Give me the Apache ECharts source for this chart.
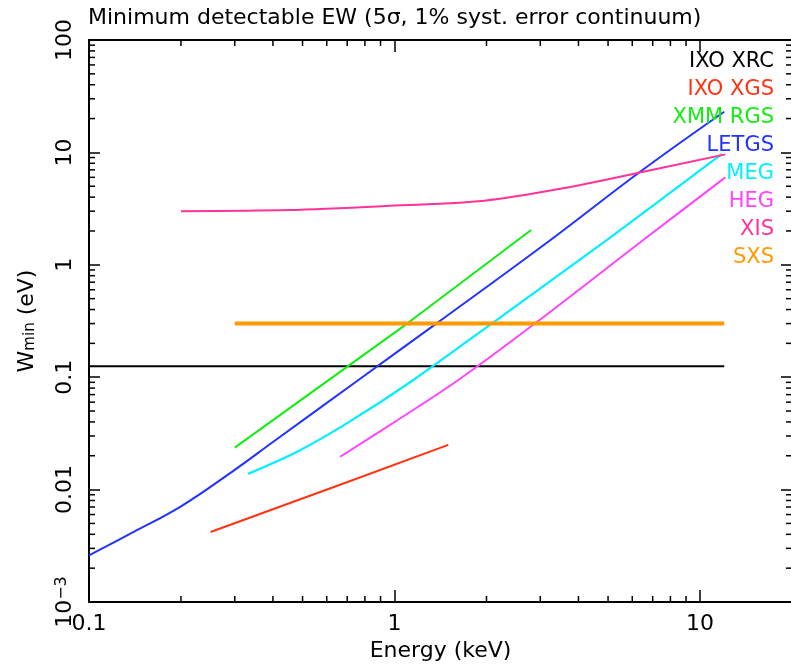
<!DOCTYPE html>
<html>
<head>
<meta charset="utf-8">
<script src="https://cdn.jsdelivr.net/npm/echarts@6/dist/echarts.min.js"></script>
<style>
html,body{margin:0;padding:0;background:#fff;}
#ewChart{width:791px;height:666px;}
</style>
</head>
<body>
<div id="ewChart"></div>
<script>
//------------------------数据-开始------------------//
// IXO XRC
var xrcEnergy = [0.1, 12];
var xrcW = [0.125, 0.125];
// IXO XGS
var xgsEnergy = [0.25, 0.66, 1.5];
var xgsW = [0.0042, 0.011, 0.025];
// XMM RGS
var rgsEnergy = [0.3, 1.1, 2.8];
var rgsW = [0.0236, 0.3, 2.04];
// LETGS
var letgsEnergy = [0.1, 0.14, 0.2, 0.3, 0.4, 0.76, 1.37, 3.2, 6.4, 12];
var letgsW = [0.0026, 0.0042, 0.0071, 0.0150, 0.0265, 0.094, 0.3, 1.62, 6.8, 23];
// MEG
var megEnergy = [0.332, 0.48, 0.7, 1.15, 2.08, 4.95, 11.8];
var megW = [0.0138, 0.0217, 0.039, 0.094, 0.3, 1.66, 9.7];
// HEG
var hegEnergy = [0.664, 1.016, 1.618, 2.88, 6.52, 12.1];
var hegW = [0.0196, 0.041, 0.0944, 0.3, 1.66, 6.0];
// XIS
var xisEnergy = [0.2, 0.45, 0.93, 1.97, 3.56, 6.52, 12.1];
var xisW = [3.0, 3.07, 3.33, 3.72, 4.79, 6.73, 9.6];
// SXS
var sxsEnergy = [0.3, 12];
var sxsW = [0.3, 0.3];

var seriesNames = ['IXO XRC', 'IXO XGS', 'XMM RGS', 'LETGS', 'MEG', 'HEG', 'XIS', 'SXS'];
var seriesColors = ['#000000', '#ff3311', '#11ee11', '#2233ff', '#00f0ff', '#ff44ff', '#ff3399', '#ff9900'];
var xTickLabels = {'0.1': '0.1', '1': '1', '10': '10'};
var yTickLabels = {'0.001': '{b|10}{e|\u22123}', '0.01': '0.01', '0.1': '0.1', '1': '1', '10': '10', '100': '100'};
//------------------------数据-结束------------------//

var FONT = 'DejaVu Sans';
var X_MIN = 0.1, X_MAX = 20, Y_MIN = 0.001, Y_MAX = 100;

function zip(xs, ys) {
	var out = [];
	for (var i = 0; i < xs.length; i++) {
		out.push([xs[i], ys[i]]);
	}
	return out;
}

// 次刻度 2..9 x 10^k，四边都画
function buildMinorTicks() {
	var list = [];
	var k, m, v;
	for (k = -1; k <= 1; k++) {
		for (m = 2; m <= 9; m++) {
			v = m * Math.pow(10, k);
			if (v < X_MAX) {
				list.push([v, Y_MIN, 0]);
				list.push([v, Y_MAX, 1]);
			}
		}
	}
	for (k = -3; k <= 1; k++) {
		for (m = 2; m <= 9; m++) {
			v = m * Math.pow(10, k);
			list.push([X_MIN, v, 2]);
			list.push([X_MAX, v, 3]);
		}
	}
	return list;
}

function renderMinorTick(params, api) {
	var side = api.value(2);
	var p = api.coord([api.value(0), api.value(1)]);
	var len = 6;
	var x2 = p[0], y2 = p[1];
	if (side === 0) { y2 = p[1] - len; }
	else if (side === 1) { y2 = p[1] + len; }
	else if (side === 2) { x2 = p[0] + len; }
	else { x2 = p[0] - len; }
	return {
		type: 'line',
		shape: {x1: p[0], y1: p[1], x2: x2, y2: y2},
		style: {stroke: '#000', lineWidth: 1.5}
	};
}

function fmtKey(v) {
	return String(parseFloat(v.toPrecision(6)));
}

var lineData = [
	zip(xrcEnergy, xrcW),
	zip(xgsEnergy, xgsW),
	zip(rgsEnergy, rgsW),
	zip(letgsEnergy, letgsW),
	zip(megEnergy, megW),
	zip(hegEnergy, hegW),
	zip(xisEnergy, xisW),
	zip(sxsEnergy, sxsW)
];
var lineWidths = [2, 2, 2, 2, 2.2, 2, 2, 4];
var smoothFlags = [false, false, false, 0.4, 0.3, 0.3, 0.3, false];

var series = [];
for (var i = 0; i < seriesNames.length; i++) {
	series.push({
		name: seriesNames[i],
		type: 'line',
		data: lineData[i],
		showSymbol: false,
		smooth: smoothFlags[i],
		color: seriesColors[i],
		lineStyle: {color: seriesColors[i], width: lineWidths[i]},
		silent: true,
		z: 3
	});
}
series.push({
	name: 'minorTicks',
	type: 'custom',
	renderItem: renderMinorTick,
	data: buildMinorTicks(),
	encode: {x: 0, y: 1},
	silent: true,
	clip: false,
	z: 4
});

var legendData = [];
for (var j = 0; j < seriesNames.length; j++) {
	legendData.push({name: seriesNames[j], textStyle: {color: seriesColors[j]}});
}

var axisLineStyle = {show: true, lineStyle: {color: '#000', width: 2}};
var majorTick = {show: true, inside: true, length: 12, lineStyle: {color: '#000', width: 1.5}};

var myChart = echarts.init(document.getElementById('ewChart'), null, {renderer: 'canvas'});
var options = {
	animation: false,
	backgroundColor: '#fff',
	title: {
		text: 'Minimum detectable EW (5\u03c3, 1% syst. error continuum)',
		left: 88,
		top: 7,
		padding: 0,
		textStyle: {fontFamily: FONT, fontSize: 22, fontWeight: 'normal', color: '#000'}
	},
	legend: {
		orient: 'vertical',
		right: 12,
		top: 51,
		padding: 0,
		align: 'right',
		icon: 'none',
		itemWidth: 0,
		itemHeight: 21,
		itemGap: 7,
		selectedMode: false,
		data: legendData,
		textStyle: {fontFamily: FONT, fontSize: 21}
	},
	grid: {left: 89, top: 40, width: 703, height: 562, containLabel: false, outerBoundsMode: 'none'},
	xAxis: [
		{
			type: 'log',
			logBase: 10,
			min: X_MIN,
			max: X_MAX,
			position: 'bottom',
			name: 'Energy (keV)',
			nameLocation: 'middle',
			nameGap: 31,
			nameTextStyle: {fontFamily: FONT, fontSize: 22, color: '#000'},
			axisLine: axisLineStyle,
			axisTick: majorTick,
			splitLine: {show: false},
			axisLabel: {
				margin: 11,
				fontFamily: FONT,
				fontSize: 22,
				color: '#000',
				formatter: function (v) {
					var t = xTickLabels[fmtKey(v)];
					return t ? t : '';
				}
			}
		},
		{
			type: 'log',
			logBase: 10,
			min: X_MIN,
			max: X_MAX,
			position: 'top',
			axisLine: axisLineStyle,
			axisTick: majorTick,
			splitLine: {show: false},
			axisLabel: {show: false}
		}
	],
	yAxis: [
		{
			type: 'log',
			logBase: 10,
			min: Y_MIN,
			max: Y_MAX,
			position: 'left',
			name: '{w|W}{s|min}{w| (eV)}',
			nameLocation: 'middle',
			nameRotate: 90,
			nameGap: 42,
			nameTextStyle: {
				fontFamily: FONT,
				color: '#000',
				rich: {
					w: {fontFamily: FONT, fontSize: 22, lineHeight: 22, verticalAlign: 'top', color: '#000'},
					s: {fontFamily: FONT, fontSize: 15, lineHeight: 15, verticalAlign: 'bottom', padding: [16, 0, 0, 0], color: '#000'}
				}
			},
			axisLine: axisLineStyle,
			axisTick: {show: true, inside: true, length: 11, lineStyle: {color: '#000', width: 1.5}},
			splitLine: {show: false},
			axisLabel: {
				rotate: 90,
				margin: 13,
				fontFamily: FONT,
				fontSize: 22,
				color: '#000',
				formatter: function (v) {
					var t = yTickLabels[fmtKey(v)];
					return t ? t : '';
				},
				rich: {
					b: {fontFamily: FONT, fontSize: 22, color: '#000', verticalAlign: 'bottom', lineHeight: 22, padding: [8, 0, 0, 0]},
					e: {fontFamily: FONT, fontSize: 16, color: '#000', verticalAlign: 'top', lineHeight: 16}
				}
			}
		},
		{
			type: 'log',
			logBase: 10,
			min: Y_MIN,
			max: Y_MAX,
			position: 'right',
			axisLine: axisLineStyle,
			axisTick: {show: true, inside: true, length: 11, lineStyle: {color: '#000', width: 1.5}},
			splitLine: {show: false},
			axisLabel: {show: false}
		}
	],
	series: series
};
myChart.setOption(options);
</script>
</body>
</html>
